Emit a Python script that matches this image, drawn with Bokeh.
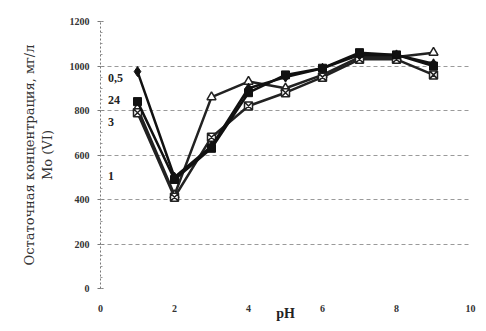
from bokeh.plotting import figure
from bokeh.embed import file_html
from bokeh.resources import INLINE
from bokeh.models import Range1d, FixedTicker
from bokeh.core.properties import value

ph = [1, 2, 3, 4, 5, 6, 7, 8, 9]
s_05 = [975, 500, 640, 900, 950, 990, 1050, 1050, 1010]
s_24 = [840, 490, 630, 880, 960, 990, 1060, 1050, 1000]
s_3 = [810, 420, 860, 930, 900, 960, 1040, 1040, 1060]
s_1 = [790, 410, 680, 820, 880, 950, 1030, 1030, 960]
series_names = ["0,5", "24", "3", "1"]
name_levels = [945, 845, 750, 505]
x_ticks = [0, 2, 4, 6, 8, 10]
y_ticks = [0, 200, 400, 600, 800, 1000, 1200]

FONT = "Liberation Serif"

p = figure(width=478, height=323, output_backend="svg", toolbar_location=None,
           x_range=Range1d(0, 10), y_range=Range1d(0, 1200),
           min_border_left=100, min_border_right=8, min_border_top=21, min_border_bottom=28)
p.outline_line_color = None
p.background_fill_color = "white"

# grid
p.xgrid.grid_line_color = None
p.ygrid.ticker = FixedTicker(ticks=[200, 400, 600, 800, 1000])
p.ygrid.grid_line_color = "#9a9a9a"
p.ygrid.grid_line_dash = "4 3"
p.ygrid.grid_line_width = 1

# axes
p.xaxis.ticker = FixedTicker(ticks=x_ticks)
p.xaxis.axis_line_color = None
p.xaxis.major_tick_line_color = None
p.xaxis.minor_tick_line_color = None
p.xaxis.major_label_text_font = FONT
p.xaxis.major_label_text_font_size = "10px"
p.xaxis.major_label_text_font_style = "bold"
p.xaxis.major_label_text_color = "#333333"
p.xaxis.major_label_standoff = 10
p.xaxis.axis_label = "pH"
p.xaxis.axis_label_text_font = FONT
p.xaxis.axis_label_text_font_size = "14px"
p.xaxis.axis_label_text_font_style = "bold"
p.xaxis.axis_label_text_color = "#222222"
p.xaxis.axis_label_standoff = -9

p.yaxis.ticker = FixedTicker(ticks=y_ticks, minor_ticks=list(range(0, 1201, 50)))
p.yaxis.axis_line_color = "#777777"
p.yaxis.axis_line_dash = "2 2"
p.yaxis.major_tick_line_color = "#777777"
p.yaxis.major_tick_in = 3
p.yaxis.major_tick_out = 3
p.yaxis.minor_tick_line_color = "#999999"
p.yaxis.minor_tick_in = 2
p.yaxis.minor_tick_out = 0
p.yaxis.major_label_text_font = FONT
p.yaxis.major_label_text_font_size = "10px"
p.yaxis.major_label_text_font_style = "bold"
p.yaxis.major_label_text_color = "#333333"
p.yaxis.major_label_standoff = 8
p.yaxis.axis_label = "Остаточная концентрация, мг/л\nMo (VI)"
p.yaxis.axis_label_text_font = "DejaVu Serif"
p.yaxis.axis_label_text_font_size = "13px"
p.yaxis.axis_label_text_font_style = "normal"
p.yaxis.axis_label_text_color = "#333333"
p.yaxis.axis_label_standoff = 12

# series
lw = 2.5
p.line(ph, s_3, line_color="#222222", line_width=lw)
p.scatter(ph, s_3, marker="triangle", size=9, fill_color="white", line_color="#222222", line_width=1.5)
p.line(ph, s_1, line_color="#222222", line_width=lw)
p.scatter(ph, s_1, marker="square_x", size=8, fill_color="white", line_color="#222222", line_width=1.5)
p.line(ph, s_24, line_color="#111111", line_width=lw)
p.scatter(ph, s_24, marker="square", size=8, fill_color="#111111", line_color="#111111")
p.line(ph, s_05, line_color="#111111", line_width=lw)
p.scatter(ph, s_05, marker="diamond", size=10, fill_color="#111111", line_color="#111111")

# series names
p.text(x=[0.2] * 4, y=name_levels, text=series_names,
       text_font=value(FONT), text_font_size="12px", text_font_style="bold", text_color="#222222",
       text_align="left", text_baseline="middle")

open("out.html", "w").write(file_html(p, INLINE))
